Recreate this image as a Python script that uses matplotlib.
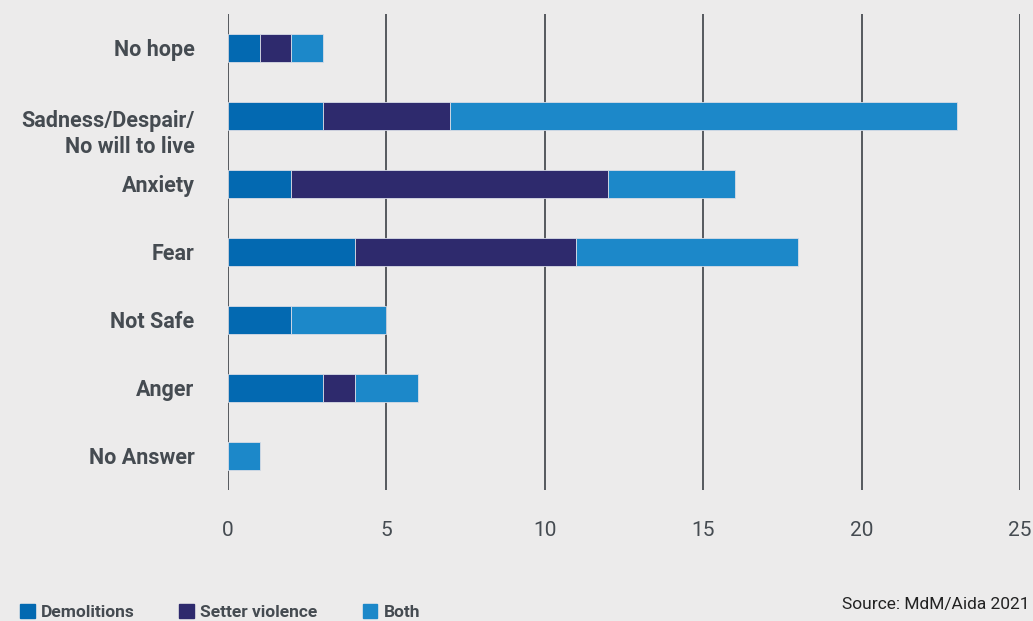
import matplotlib.pyplot as plt
from matplotlib.patches import Patch
from matplotlib.transforms import ScaledTranslation
import numpy as np

categories = ["No hope", "Sadness/Despair/\nNo will to live", "Anxiety", "Fear",
              "Not Safe", "Anger", "No Answer"]
demolitions = [1, 3, 2, 4, 2, 3, 0]
settler_violence = [1, 4, 10, 7, 0, 1, 0]
both = [1, 16, 4, 7, 3, 2, 1]
series_names = ["Demolitions", "Setter violence", "Both"]
x_ticks = [0, 5, 10, 15, 20, 25]

colors = ["#0369b1", "#2e2a6d", "#1c88c9"]
background = "#ecebeb"
text_color = "#454b51"

plt.rcParams["font.family"] = ["Roboto", "DejaVu Sans"]

figure = plt.figure(figsize=(10.33, 6.21), dpi=100, facecolor=background)
axis = figure.add_axes([0.2207, 0.211, 0.7667, 0.7665])
axis.set_facecolor(background)

positions = np.arange(len(categories))
left = np.zeros(len(categories))
for values, color in zip([demolitions, settler_violence, both], colors):
    axis.barh(positions, values, left=left, height=0.4, color=color,
              edgecolor="#d8dce6", linewidth=0.6, zorder=3)
    left += np.array(values)

axis.set_ylim(len(categories) - 0.5, -0.5)
axis.set_xlim(0, 25)
axis.set_xticks(x_ticks)
axis.set_xticklabels([str(t) for t in x_ticks], fontsize=15, color=text_color)
axis.set_yticks(positions)
axis.set_yticklabels(categories, fontsize=15.5, fontweight="bold", color=text_color,
                     linespacing=1.25)
axis.tick_params(length=0, pad=22, axis="x")
axis.tick_params(length=0, pad=24, axis="y")
axis.grid(axis="x", color="#55595e", linewidth=1.4, zorder=0)
for spine in axis.spines.values():
    spine.set_visible(False)

# the two-line label sits with its first line level with the bar
for label in axis.get_yticklabels():
    if "\n" in label.get_text():
        label.set_transform(label.get_transform()
                            + ScaledTranslation(0, -0.135, figure.dpi_scale_trans))

handles = [Patch(color=c) for c in colors]
figure.legend(handles, series_names, loc="lower left", bbox_to_anchor=(0.004, -0.024),
              ncol=3, frameon=False, handlelength=0.85, handleheight=0.85,
              handletextpad=0.35, columnspacing=2.6,
              prop={"size": 12.5, "weight": "bold"}, labelcolor=text_color)
figure.text(0.997, 0.027, "Source: MdM/Aida 2021", ha="right", va="center",
            fontsize=12.5, color="#222222")

figure.savefig("out.png", dpi=100, facecolor=background)
